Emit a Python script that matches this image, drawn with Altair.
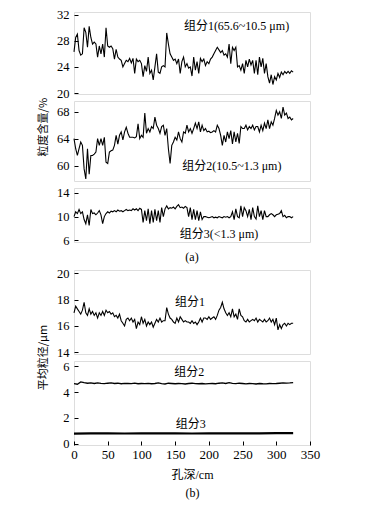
import altair as alt
import pandas as pd

STEP = 2.5  # cm between samples

# (a) component contents, %
a1 = [26.3, 28.5, 29, 26.5, 25.8, 26, 30, 29.3, 27, 30.2,
      28.5, 27.5, 27.8, 27.5, 25.5, 27.2, 26, 27.5, 25.5, 30,
      27.2, 27, 27.2, 26.8, 25.2, 26.7, 25.5, 25.2, 25, 24,
      24.5, 25, 24.8, 25.3, 24.6, 25.3, 23, 25.2, 24.8, 25,
      24.5, 22.5, 24.2, 23.3, 25.5, 23, 23.5, 22, 24, 26,
      23.2, 23, 24, 24.2, 24, 29.2, 27.5, 26, 25.5, 25,
      25.2, 24.5, 25.2, 23, 24.8, 25.5, 24, 24.5, 23.8, 24,
      22.6, 25.5, 23.5, 24.8, 23, 25.3, 24.8, 25.2, 24.2, 24.8,
      24.5, 25.2, 25.5, 26, 26.5, 27, 26.6, 26.2, 26.5, 25.8,
      26, 25.5, 27.5, 24.5, 27, 26.5, 27, 24, 24.2, 23.5,
      24.5, 23, 25, 24, 25.2, 24.3, 25, 23, 25, 22.8,
      25.5, 24, 25.3, 23, 24.5, 22.5, 21.5, 22.8, 21.3, 22.5,
      22, 23, 22.4, 23.2, 22.8, 23.3, 23, 23.3, 23, 23.4, 23.2]

a2 = [64, 62.5, 61.5, 62.5, 63.5, 63, 59.5, 58, 62.5, 58.7,
      61.5, 61.5, 61.7, 62, 64, 63, 64, 63, 64.2, 60.5,
      60.3, 62, 62.2, 62.3, 63, 64.5, 63.2, 64.5, 65, 63.8,
      65, 65.7, 64.8, 64.2, 64.2, 64.2, 64.1, 64.3, 66.2, 64,
      64.5, 64.2, 67.8, 64.8, 65.5, 65, 65.8, 65.5, 67.2, 66,
      65.5, 64.8, 65.8, 66, 64.5, 65.5, 62.5, 60.3, 63, 63.5,
      64.2, 63.8, 65, 64, 63.5, 65, 64.8, 66, 65, 65.5,
      64.8, 65.5, 66.3, 65.5, 66.5, 65, 66, 65.2, 65.5, 65,
      65.1, 64.9, 65, 65.2, 65, 66, 65.5, 64.5, 63, 64.5,
      63.5, 65, 64, 65.2, 63.2, 65, 63.5, 64.8, 63.3, 65.8,
      65.5, 65.5, 66, 65.3, 65.8, 65.5, 66, 65.3, 65.8, 65.8,
      65, 66, 65.2, 66.3, 65.5, 66.8, 65.5, 66.5, 66, 67,
      68.2, 67.5, 68, 67, 68.7, 67.5, 67.8, 67, 67.2, 66.8, 67]

a3 = [10, 10.8, 10.5, 11.2, 10.5, 10.8, 9.5, 8.8, 10.3, 8.5,
      11.2, 10.5, 10.6, 10.3, 10.6, 11, 10.3, 8.8, 10, 10.5,
      10.8, 10.6, 10.9, 10.8, 11, 10.8, 11.1, 10.9, 11, 10.8,
      11, 11.2, 11, 11.1, 11, 11.3, 11.1, 11.3, 11, 11.4,
      11.2, 9, 11, 9.3, 11.3, 8.8, 11, 9, 11.2, 9.3,
      11, 9, 11.5, 10, 11.3, 11.8, 11.3, 11.5, 11.4, 11.6,
      11.3, 11.7, 12, 11.5, 11.6, 11.4, 11.7, 11.5, 10, 11.5,
      9.5, 11.2, 9.5, 11, 9.3, 10.8, 9.5, 10, 10, 9.9,
      9.8, 9.9, 10, 9.8, 9.9, 9.8, 10, 9.9, 9.8, 10,
      9.9, 10, 9.8, 10, 10.8, 9.5, 11.3, 10, 9.8, 11.8,
      10, 11.5, 11, 10, 11.2, 9.5, 11.5, 10, 9.6, 11.8,
      10, 11, 9.5, 11, 10, 10, 10.3, 10.5, 10.3, 10,
      10.3, 10.4, 10.5, 11, 10, 10.2, 9.8, 10, 10, 9.8, 10]

# (b) mean grain size, um
b1 = [17, 17.5, 17.3, 17.1, 16.9, 17.2, 17.8, 17, 16.8, 17.3,
      16.9, 17.1, 16.8, 17, 16.6, 17, 16.8, 17.1, 16.8, 17.2,
      17, 17.1, 16.9, 17, 16.7, 16.8, 16.6, 16.9, 16.4, 16.2,
      16, 16.5, 16.6, 16.4, 16.6, 16.3, 16.5, 15.8, 16.3, 16.1,
      16.7, 16.2, 16.5, 16, 16.3, 16.1, 16.3, 15.9, 16.2, 16.5,
      16.3, 16.6, 16.3, 16.4, 16.4, 17.4, 16.9, 16.6, 16.5, 16.3,
      16.2, 16.6, 16.3, 16.7, 16.5, 16.3, 16.4, 16.3, 16.3, 16.2,
      16.4, 16.2, 16.3, 16.1, 16.3, 16.6, 16.3, 16.6, 16.6, 16.5,
      16.7, 16.5, 16.6, 16.7, 16.5, 16.8, 17.2, 17.4, 17.8, 17.3,
      17, 16.8, 17, 16.7, 17.3, 16.7, 16.9, 16.5, 17.3, 16.8,
      16.7, 16.4, 16.3, 16.5, 16.3, 16.4, 16.5, 16.4, 16.6, 16.3,
      16.5, 16.4, 16.3, 16.5, 16.3, 16.4, 16.6, 16.3, 16.5, 16.1,
      16.6, 15.7, 16.1, 15.8, 16.1, 16.2, 16, 16.2, 16.1, 16.2, 16.2]

B2_STEP = 5
b2 = [4.65, 4.6, 4.78, 4.72, 4.68, 4.7, 4.66, 4.7, 4.67, 4.65,
      4.68, 4.7, 4.66, 4.68, 4.64, 4.67, 4.66, 4.65, 4.68, 4.64,
      4.66, 4.65, 4.67, 4.64, 4.66, 4.7, 4.65, 4.62, 4.68, 4.66,
      4.64, 4.66, 4.65, 4.62, 4.66, 4.68, 4.65, 4.64, 4.66, 4.63,
      4.65, 4.66, 4.64, 4.68, 4.7, 4.66, 4.72, 4.67, 4.65, 4.68,
      4.66, 4.63, 4.66, 4.65, 4.62, 4.66, 4.64, 4.63, 4.66, 4.65,
      4.66, 4.68, 4.7, 4.69, 4.7, 4.72]

B3_STEP = 25
b3 = [0.78, 0.8, 0.8, 0.79, 0.8, 0.8, 0.8, 0.79, 0.8, 0.8, 0.8, 0.8, 0.82, 0.82]

x_ticks = [0, 50, 100, 150, 200, 250, 300, 350]

SERIF = "Liberation Serif"
MIXED = '"Liberation Serif", "Noto Sans CJK SC"'
CJK = '"Noto Sans CJK SC"'
W = 236


def frame(vals, step):
    return pd.DataFrame({"depth": [i * step for i in range(len(vals))],
                         "v": vals})


def ylab(ticks, title=None, title_y=None):
    kw = dict(values=ticks, offset=-4, tickSize=4, domain=False, grid=False,
              labelPadding=5, labelFont=SERIF, labelFontSize=12.5,
              labelColor="black", tickColor="black", labelOverlap=False,
              labelFlush=False)
    if title is not None:
        kw.update(title=title, titleFont=CJK, titleFontSize=11,
                  titleFontWeight="normal", titlePadding=8, titleColor="black")
        if title_y is not None:
            kw["titleY"] = title_y
    else:
        kw["title"] = None
    return alt.Axis(**kw)


def panel(frames, domain, height, ticks, notes, xaxis=None, ytitle=None,
          ytitle_y=None, widths=None):
    xs = alt.Scale(domain=[0, 350], nice=False, zero=False)
    ys = alt.Scale(domain=domain, nice=False, zero=False)
    yaxis = ylab(ticks, ytitle, ytitle_y)
    layers = []
    for i, f in enumerate(frames):
        sw = widths[i] if widths else 1.1
        layers.append(
            alt.Chart(f).mark_line(color="black", strokeWidth=sw).encode(
                x=alt.X("depth:Q", scale=xs, axis=xaxis),
                y=alt.Y("v:Q", scale=ys, axis=yaxis),
            )
        )
    nd = pd.DataFrame(notes, columns=["depth", "v", "t"])
    layers.append(
        alt.Chart(nd).mark_text(font=MIXED, fontSize=12, color="black").encode(
            x=alt.X("depth:Q", scale=xs, axis=xaxis),
            y=alt.Y("v:Q", scale=ys, axis=yaxis),
            text="t:N")
    )
    return alt.layer(*layers).properties(width=W, height=height)


p1 = panel([frame(a1, STEP)], [19.85, 32.4], 82, [20, 24, 28, 32],
           [[241, 30.3, "组分1(65.6~10.5 μm)"]])
p2 = panel([frame(a2, STEP)], [57.7, 69.6], 80, [60, 64, 68],
           [[234, 59.9, "组分2(10.5~1.3 μm)"]],
           ytitle="粒度含量/%", ytitle_y=25.7)
p3 = panel([frame(a3, STEP)], [5.73, 14.8], 54, [6, 10, 14],
           [[215, 7.1, "组分3(<1.3 μm)"]])

SPACER_H = 14
spacer = alt.Chart(pd.DataFrame({"t": ["(a)"]})).mark_text(
    font=SERIF, fontSize=12, color="black"
).encode(
    text="t:N", x=alt.value(W / 2), y=alt.value(SPACER_H / 2 + 1)
).properties(width=W, height=SPACER_H,
             view=alt.ViewBackground(stroke="transparent"))

p4 = panel([frame(b1, STEP)], [13.87, 20.25], 84, [14, 16, 18, 20],
           [[172, 17.85, "组分1"]],
           ytitle="平均粒径/μm", ytitle_y=87)
p5 = panel([frame(b2, B2_STEP), frame(b3, B3_STEP)], [-0.1, 6.4], 84,
           [0, 2, 4, 6],
           [[171, 5.56, "组分2"], [173, 1.5, "组分3"]],
           widths=[1.3, 2.2],
           xaxis=alt.Axis(values=x_ticks, offset=-4, tickSize=4, domain=False,
                          grid=False, labelPadding=3, labelFont=SERIF,
                          labelFontSize=13, labelColor="black",
                          tickColor="black", labelFlush=False,
                          labelOverlap=False,
                          title=["孔深/cm", "(b)"], titleFont=MIXED,
                          titleFontSize=12, titleFontWeight="normal",
                          titleLineHeight=18, titlePadding=8,
                          titleColor="black"))

chart = alt.vconcat(p1, p2, p3, spacer, p4, p5, spacing=7,
                    bounds="flush").properties(
    padding={"left": 29, "top": 0, "right": 5, "bottom": 5}
).configure_view(stroke="black", strokeWidth=1.2).configure(background="white")

chart.save("out.html", embed_options={"renderer": "svg", "actions": False})
